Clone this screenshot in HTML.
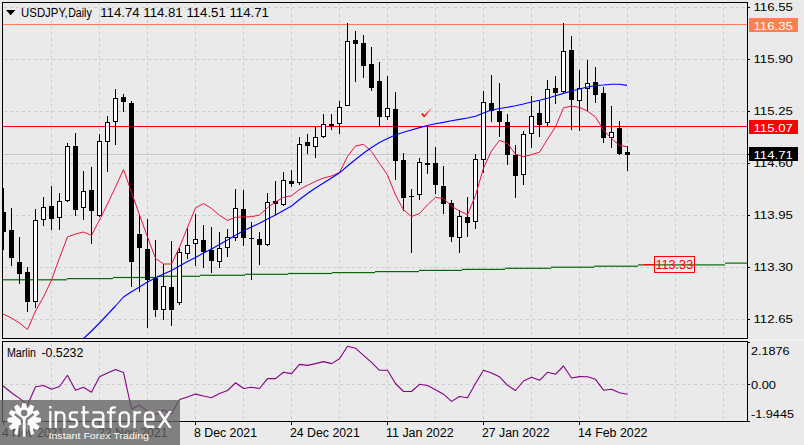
<!DOCTYPE html>
<html><head><meta charset="utf-8"><title>USDJPY Daily</title>
<style>
html,body{margin:0;padding:0;background:#eaeaea;overflow:hidden}
body{width:804px;height:445px;font-family:"Liberation Sans",sans-serif}
svg{display:block;font-family:"Liberation Sans",sans-serif;font-size:12px}
text{font-family:"Liberation Sans",sans-serif}
</style></head><body>
<svg width="804" height="445" viewBox="0 0 804 445">
<rect x="0" y="0" width="804" height="445" fill="#eaeaea"/>
<g stroke="#cdcdcd" stroke-width="1" stroke-dasharray="3 3" shape-rendering="crispEdges" fill="none">
<line x1="51.5" y1="2" x2="51.5" y2="338"/>
<line x1="51.5" y1="344" x2="51.5" y2="421"/>
<line x1="99.5" y1="2" x2="99.5" y2="338"/>
<line x1="99.5" y1="344" x2="99.5" y2="421"/>
<line x1="147.5" y1="2" x2="147.5" y2="338"/>
<line x1="147.5" y1="344" x2="147.5" y2="421"/>
<line x1="195.5" y1="2" x2="195.5" y2="338"/>
<line x1="195.5" y1="344" x2="195.5" y2="421"/>
<line x1="243.5" y1="2" x2="243.5" y2="338"/>
<line x1="243.5" y1="344" x2="243.5" y2="421"/>
<line x1="291.5" y1="2" x2="291.5" y2="338"/>
<line x1="291.5" y1="344" x2="291.5" y2="421"/>
<line x1="339.5" y1="2" x2="339.5" y2="338"/>
<line x1="339.5" y1="344" x2="339.5" y2="421"/>
<line x1="387.5" y1="2" x2="387.5" y2="338"/>
<line x1="387.5" y1="344" x2="387.5" y2="421"/>
<line x1="435.5" y1="2" x2="435.5" y2="338"/>
<line x1="435.5" y1="344" x2="435.5" y2="421"/>
<line x1="483.5" y1="2" x2="483.5" y2="338"/>
<line x1="483.5" y1="344" x2="483.5" y2="421"/>
<line x1="531.5" y1="2" x2="531.5" y2="338"/>
<line x1="531.5" y1="344" x2="531.5" y2="421"/>
<line x1="579.5" y1="2" x2="579.5" y2="338"/>
<line x1="579.5" y1="344" x2="579.5" y2="421"/>
<line x1="627.5" y1="2" x2="627.5" y2="338"/>
<line x1="627.5" y1="344" x2="627.5" y2="421"/>
<line x1="675.5" y1="2" x2="675.5" y2="338"/>
<line x1="675.5" y1="344" x2="675.5" y2="421"/>
<line x1="723.5" y1="2" x2="723.5" y2="338"/>
<line x1="723.5" y1="344" x2="723.5" y2="421"/>
<line x1="4" y1="7.5" x2="747" y2="7.5"/>
<line x1="4" y1="59.5" x2="747" y2="59.5"/>
<line x1="4" y1="111.5" x2="747" y2="111.5"/>
<line x1="4" y1="163.5" x2="747" y2="163.5"/>
<line x1="4" y1="215.5" x2="747" y2="215.5"/>
<line x1="4" y1="267.5" x2="747" y2="267.5"/>
<line x1="4" y1="319.5" x2="747" y2="319.5"/>
<line x1="4" y1="384.5" x2="747" y2="384.5"/>
</g>
<rect x="3" y="154" width="744" height="1" fill="#c9c9c9" shape-rendering="crispEdges"/>
<g fill="#0a660a">
<rect x="3" y="279.2" width="64" height="1.2"/>
<rect x="67" y="278.0" width="46" height="1.2"/>
<rect x="113" y="276.9" width="44" height="1.2"/>
<rect x="157" y="275.7" width="43" height="1.2"/>
<rect x="200" y="274.7" width="45" height="1.2"/>
<rect x="245" y="273.7" width="43" height="1.2"/>
<rect x="288" y="272.9" width="44" height="1.2"/>
<rect x="332" y="272.0" width="43" height="1.2"/>
<rect x="375" y="271.0" width="44" height="1.2"/>
<rect x="419" y="269.8" width="43" height="1.2"/>
<rect x="462" y="268.8" width="43" height="1.2"/>
<rect x="505" y="267.7" width="46" height="1.2"/>
<rect x="551" y="266.6" width="43" height="1.2"/>
<rect x="594" y="265.6" width="44" height="1.2"/>
<rect x="638" y="264.3" width="87" height="1.2"/>
<rect x="725" y="262.5" width="23" height="1.2"/>
</g>
<rect x="3" y="24" width="744" height="1" fill="#ff7f50" shape-rendering="crispEdges"/>
<rect x="3" y="126" width="744" height="1" fill="#ff0000" shape-rendering="crispEdges"/>
<rect x="3" y="126.6" width="744" height="0.5" fill="#ff0000" opacity="0.45"/>
<g shape-rendering="crispEdges">
<rect x="3" y="188" width="1" height="62" fill="#000"/>
<rect x="3" y="212" width="3" height="20" fill="#000"/>
<rect x="11" y="208" width="1" height="58" fill="#000"/>
<rect x="9" y="230" width="5" height="28" fill="#000"/>
<rect x="19" y="237" width="1" height="47" fill="#000"/>
<rect x="17" y="262" width="5" height="12" fill="#000"/>
<rect x="27" y="267" width="1" height="45" fill="#000"/>
<rect x="25" y="272" width="5" height="30" fill="#000"/>
<rect x="35" y="209" width="1" height="99" fill="#000"/>
<rect x="33" y="220" width="5" height="82" fill="#000"/>
<rect x="34" y="221" width="3" height="80" fill="#fff"/>
<rect x="43" y="197" width="1" height="29" fill="#000"/>
<rect x="41" y="207" width="5" height="13" fill="#000"/>
<rect x="42" y="208" width="3" height="11" fill="#fff"/>
<rect x="51" y="186" width="1" height="44" fill="#000"/>
<rect x="49" y="206" width="5" height="13" fill="#000"/>
<rect x="59" y="193" width="1" height="37" fill="#000"/>
<rect x="57" y="201" width="5" height="17" fill="#000"/>
<rect x="58" y="202" width="3" height="15" fill="#fff"/>
<rect x="67" y="143" width="1" height="59" fill="#000"/>
<rect x="65" y="146" width="5" height="55" fill="#000"/>
<rect x="66" y="147" width="3" height="53" fill="#fff"/>
<rect x="75" y="133" width="1" height="83" fill="#000"/>
<rect x="73" y="146" width="5" height="64" fill="#000"/>
<rect x="83" y="171" width="1" height="49" fill="#000"/>
<rect x="81" y="191" width="5" height="17" fill="#000"/>
<rect x="82" y="192" width="3" height="15" fill="#fff"/>
<rect x="91" y="167" width="1" height="77" fill="#000"/>
<rect x="89" y="190" width="5" height="21" fill="#000"/>
<rect x="99" y="134" width="1" height="83" fill="#000"/>
<rect x="97" y="141" width="5" height="75" fill="#000"/>
<rect x="98" y="142" width="3" height="73" fill="#fff"/>
<rect x="107" y="116" width="1" height="56" fill="#000"/>
<rect x="105" y="122" width="5" height="20" fill="#000"/>
<rect x="106" y="123" width="3" height="18" fill="#fff"/>
<rect x="115" y="89" width="1" height="56" fill="#000"/>
<rect x="113" y="98" width="5" height="24" fill="#000"/>
<rect x="114" y="99" width="3" height="22" fill="#fff"/>
<rect x="123" y="94" width="1" height="18" fill="#000"/>
<rect x="121" y="97" width="5" height="5" fill="#000"/>
<rect x="131" y="101" width="1" height="186" fill="#000"/>
<rect x="129" y="103" width="5" height="159" fill="#000"/>
<rect x="139" y="214" width="1" height="78" fill="#000"/>
<rect x="137" y="234" width="5" height="14" fill="#000"/>
<rect x="147" y="219" width="1" height="109" fill="#000"/>
<rect x="145" y="249" width="5" height="31" fill="#000"/>
<rect x="155" y="240" width="1" height="77" fill="#000"/>
<rect x="153" y="278" width="5" height="32" fill="#000"/>
<rect x="163" y="264" width="1" height="56" fill="#000"/>
<rect x="161" y="286" width="5" height="24" fill="#000"/>
<rect x="162" y="287" width="3" height="22" fill="#fff"/>
<rect x="171" y="241" width="1" height="85" fill="#000"/>
<rect x="169" y="287" width="5" height="23" fill="#000"/>
<rect x="179" y="248" width="1" height="57" fill="#000"/>
<rect x="177" y="252" width="5" height="51" fill="#000"/>
<rect x="178" y="253" width="3" height="49" fill="#fff"/>
<rect x="187" y="228" width="1" height="31" fill="#000"/>
<rect x="185" y="245" width="5" height="9" fill="#000"/>
<rect x="186" y="246" width="3" height="7" fill="#fff"/>
<rect x="195" y="214" width="1" height="52" fill="#000"/>
<rect x="193" y="239" width="5" height="5" fill="#000"/>
<rect x="194" y="240" width="3" height="3" fill="#fff"/>
<rect x="203" y="225" width="1" height="43" fill="#000"/>
<rect x="201" y="240" width="5" height="12" fill="#000"/>
<rect x="211" y="227" width="1" height="46" fill="#000"/>
<rect x="209" y="250" width="5" height="11" fill="#000"/>
<rect x="219" y="232" width="1" height="36" fill="#000"/>
<rect x="217" y="248" width="5" height="14" fill="#000"/>
<rect x="218" y="249" width="3" height="12" fill="#fff"/>
<rect x="227" y="229" width="1" height="28" fill="#000"/>
<rect x="225" y="237" width="5" height="11" fill="#000"/>
<rect x="226" y="238" width="3" height="9" fill="#fff"/>
<rect x="235" y="189" width="1" height="52" fill="#000"/>
<rect x="233" y="208" width="5" height="30" fill="#000"/>
<rect x="234" y="209" width="3" height="28" fill="#fff"/>
<rect x="243" y="190" width="1" height="56" fill="#000"/>
<rect x="241" y="209" width="5" height="29" fill="#000"/>
<rect x="251" y="222" width="1" height="58" fill="#000"/>
<rect x="249" y="238" width="5" height="1" fill="#000"/>
<rect x="259" y="232" width="1" height="33" fill="#000"/>
<rect x="257" y="239" width="5" height="6" fill="#000"/>
<rect x="267" y="193" width="1" height="53" fill="#000"/>
<rect x="265" y="202" width="5" height="43" fill="#000"/>
<rect x="266" y="203" width="3" height="41" fill="#fff"/>
<rect x="275" y="181" width="1" height="34" fill="#000"/>
<rect x="273" y="201" width="5" height="3" fill="#000"/>
<rect x="283" y="172" width="1" height="34" fill="#000"/>
<rect x="281" y="180" width="5" height="25" fill="#000"/>
<rect x="282" y="181" width="3" height="23" fill="#fff"/>
<rect x="291" y="170" width="1" height="17" fill="#000"/>
<rect x="289" y="181" width="5" height="3" fill="#000"/>
<rect x="299" y="137" width="1" height="48" fill="#000"/>
<rect x="297" y="144" width="5" height="39" fill="#000"/>
<rect x="298" y="145" width="3" height="37" fill="#fff"/>
<rect x="307" y="134" width="1" height="20" fill="#000"/>
<rect x="305" y="142" width="5" height="4" fill="#000"/>
<rect x="315" y="127" width="1" height="31" fill="#000"/>
<rect x="313" y="137" width="5" height="10" fill="#000"/>
<rect x="314" y="138" width="3" height="8" fill="#fff"/>
<rect x="323" y="114" width="1" height="24" fill="#000"/>
<rect x="321" y="124" width="5" height="13" fill="#000"/>
<rect x="322" y="125" width="3" height="11" fill="#fff"/>
<rect x="331" y="114" width="1" height="16" fill="#000"/>
<rect x="329" y="124" width="5" height="2" fill="#000"/>
<rect x="339" y="101" width="1" height="33" fill="#000"/>
<rect x="337" y="107" width="5" height="17" fill="#000"/>
<rect x="338" y="108" width="3" height="15" fill="#fff"/>
<rect x="347" y="23" width="1" height="83" fill="#000"/>
<rect x="345" y="41" width="5" height="65" fill="#000"/>
<rect x="346" y="42" width="3" height="63" fill="#fff"/>
<rect x="355" y="31" width="1" height="51" fill="#000"/>
<rect x="353" y="40" width="5" height="4" fill="#000"/>
<rect x="363" y="35" width="1" height="43" fill="#000"/>
<rect x="361" y="43" width="5" height="23" fill="#000"/>
<rect x="371" y="47" width="1" height="44" fill="#000"/>
<rect x="369" y="64" width="5" height="24" fill="#000"/>
<rect x="379" y="62" width="1" height="65" fill="#000"/>
<rect x="377" y="81" width="5" height="36" fill="#000"/>
<rect x="387" y="76" width="1" height="44" fill="#000"/>
<rect x="385" y="108" width="5" height="9" fill="#000"/>
<rect x="386" y="109" width="3" height="7" fill="#fff"/>
<rect x="395" y="92" width="1" height="88" fill="#000"/>
<rect x="393" y="109" width="5" height="52" fill="#000"/>
<rect x="403" y="153" width="1" height="58" fill="#000"/>
<rect x="401" y="160" width="5" height="38" fill="#000"/>
<rect x="411" y="189" width="1" height="64" fill="#000"/>
<rect x="409" y="196" width="5" height="1" fill="#000"/>
<rect x="419" y="158" width="1" height="42" fill="#000"/>
<rect x="417" y="162" width="5" height="33" fill="#000"/>
<rect x="418" y="163" width="3" height="31" fill="#fff"/>
<rect x="427" y="125" width="1" height="49" fill="#000"/>
<rect x="425" y="163" width="5" height="2" fill="#000"/>
<rect x="435" y="147" width="1" height="47" fill="#000"/>
<rect x="433" y="163" width="5" height="22" fill="#000"/>
<rect x="443" y="166" width="1" height="48" fill="#000"/>
<rect x="441" y="186" width="5" height="18" fill="#000"/>
<rect x="451" y="200" width="1" height="42" fill="#000"/>
<rect x="449" y="203" width="5" height="34" fill="#000"/>
<rect x="459" y="210" width="1" height="43" fill="#000"/>
<rect x="457" y="216" width="5" height="22" fill="#000"/>
<rect x="458" y="217" width="3" height="20" fill="#fff"/>
<rect x="467" y="197" width="1" height="40" fill="#000"/>
<rect x="465" y="217" width="5" height="6" fill="#000"/>
<rect x="475" y="154" width="1" height="75" fill="#000"/>
<rect x="473" y="159" width="5" height="63" fill="#000"/>
<rect x="474" y="160" width="3" height="61" fill="#fff"/>
<rect x="483" y="91" width="1" height="82" fill="#000"/>
<rect x="481" y="102" width="5" height="58" fill="#000"/>
<rect x="482" y="103" width="3" height="56" fill="#fff"/>
<rect x="491" y="75" width="1" height="47" fill="#000"/>
<rect x="489" y="103" width="5" height="8" fill="#000"/>
<rect x="499" y="83" width="1" height="54" fill="#000"/>
<rect x="497" y="111" width="5" height="11" fill="#000"/>
<rect x="507" y="114" width="1" height="51" fill="#000"/>
<rect x="505" y="122" width="5" height="33" fill="#000"/>
<rect x="515" y="145" width="1" height="53" fill="#000"/>
<rect x="513" y="155" width="5" height="21" fill="#000"/>
<rect x="523" y="131" width="1" height="54" fill="#000"/>
<rect x="521" y="134" width="5" height="41" fill="#000"/>
<rect x="522" y="135" width="3" height="39" fill="#fff"/>
<rect x="531" y="96" width="1" height="52" fill="#000"/>
<rect x="529" y="116" width="5" height="18" fill="#000"/>
<rect x="530" y="117" width="3" height="16" fill="#fff"/>
<rect x="539" y="101" width="1" height="36" fill="#000"/>
<rect x="537" y="113" width="5" height="12" fill="#000"/>
<rect x="547" y="80" width="1" height="46" fill="#000"/>
<rect x="545" y="89" width="5" height="34" fill="#000"/>
<rect x="546" y="90" width="3" height="32" fill="#fff"/>
<rect x="555" y="76" width="1" height="28" fill="#000"/>
<rect x="553" y="88" width="5" height="5" fill="#000"/>
<rect x="563" y="23" width="1" height="70" fill="#000"/>
<rect x="561" y="51" width="5" height="41" fill="#000"/>
<rect x="562" y="52" width="3" height="39" fill="#fff"/>
<rect x="571" y="36" width="1" height="94" fill="#000"/>
<rect x="569" y="50" width="5" height="50" fill="#000"/>
<rect x="579" y="70" width="1" height="61" fill="#000"/>
<rect x="577" y="88" width="5" height="13" fill="#000"/>
<rect x="578" y="89" width="3" height="11" fill="#fff"/>
<rect x="587" y="60" width="1" height="51" fill="#000"/>
<rect x="585" y="83" width="5" height="6" fill="#000"/>
<rect x="586" y="84" width="3" height="4" fill="#fff"/>
<rect x="595" y="67" width="1" height="36" fill="#000"/>
<rect x="593" y="82" width="5" height="13" fill="#000"/>
<rect x="603" y="87" width="1" height="56" fill="#000"/>
<rect x="601" y="93" width="5" height="45" fill="#000"/>
<rect x="611" y="106" width="1" height="42" fill="#000"/>
<rect x="609" y="132" width="5" height="6" fill="#000"/>
<rect x="610" y="133" width="3" height="4" fill="#fff"/>
<rect x="619" y="121" width="1" height="34" fill="#000"/>
<rect x="617" y="128" width="5" height="26" fill="#000"/>
<rect x="627" y="146" width="1" height="25" fill="#000"/>
<rect x="625" y="152" width="5" height="3" fill="#000"/>
</g>
<polyline points="3.0,314.0 11.5,318.0 19.5,323.0 27.5,329.5 35.5,311.0 43.5,297.0 51.5,280.0 59.5,258.0 67.5,237.0 75.5,234.0 83.5,232.0 91.5,235.4 99.5,220.0 107.5,204.0 115.5,187.0 123.5,169.5 131.5,192.3 139.5,215.0 147.5,237.0 155.5,258.3 163.5,264.0 171.5,264.0 179.5,247.3 187.5,227.4 195.5,208.0 203.5,203.5 211.5,208.5 219.5,215.3 227.5,220.4 235.5,217.3 243.5,217.0 251.5,216.7 259.5,215.0 267.5,207.7 275.5,202.0 283.5,197.3 291.5,195.8 299.5,189.5 307.5,185.3 315.5,181.4 323.5,178.0 331.5,176.0 339.5,172.5 347.5,156.5 355.5,146.0 363.5,144.3 371.5,151.5 379.5,163.4 387.5,175.0 395.5,195.0 403.5,209.8 411.5,216.5 419.5,213.5 427.5,204.8 435.5,197.4 443.5,198.6 451.5,206.0 459.5,211.0 467.5,214.8 475.5,195.5 483.5,168.0 491.5,151.0 499.5,140.3 507.5,143.5 515.5,154.2 523.5,156.7 531.5,154.7 539.5,152.2 547.5,139.3 555.5,126.7 563.5,107.8 571.5,106.1 579.5,107.4 587.5,111.2 595.5,117.0 603.5,130.0 611.5,138.5 619.5,145.5 627.5,146.7" fill="none" stroke="#e6143c" stroke-width="1.0" stroke-linejoin="round"/>
<polyline points="83.0,339.0 91.5,331.0 99.5,323.0 107.5,314.5 115.5,306.0 123.5,297.0 131.5,291.7 139.5,287.0 147.5,282.0 155.5,278.0 163.5,274.0 171.5,270.5 179.5,266.0 187.5,261.5 195.5,257.5 203.5,253.0 211.5,249.0 219.5,244.6 227.5,240.0 235.5,235.2 243.5,230.8 251.5,227.0 259.5,223.2 267.5,219.0 275.5,215.0 283.5,210.5 291.5,206.0 299.5,199.5 307.5,193.5 315.5,188.0 323.5,183.0 331.5,178.0 339.5,172.8 347.5,166.0 355.5,159.5 363.5,153.3 371.5,147.5 379.5,142.5 387.5,138.5 395.5,135.0 403.5,132.3 411.5,130.0 419.5,127.6 427.5,125.5 435.5,123.8 443.5,122.4 451.5,120.8 459.5,119.4 467.5,118.0 475.5,116.3 483.5,113.0 491.5,110.0 499.5,108.5 507.5,107.2 515.5,105.8 523.5,104.0 531.5,102.0 539.5,100.3 547.5,98.3 555.5,95.8 563.5,93.4 571.5,91.0 579.5,89.0 587.5,87.0 595.5,85.5 603.5,85.0 611.5,84.3 619.5,84.2 627.0,85.4" fill="none" stroke="#0000ff" stroke-width="1.1" stroke-linejoin="round"/>
<path d="M421.1 113.9 L422.7 112.9 L424.2 115.2 Q427.6 111.2 432.2 107.7 Q428 112.2 424.2 117.6 Z" fill="#ff0000"/>
<rect x="644" y="264" width="10" height="1" fill="#ff0000" shape-rendering="crispEdges"/>
<rect x="654.5" y="256.5" width="40" height="16" fill="none" stroke="#ff0000" stroke-width="1" shape-rendering="crispEdges"/>
<text x="655.4" y="269" fill="#ff0000" textLength="37.8" lengthAdjust="spacingAndGlyphs">113.33</text>
<polyline points="2.5,385.5 11.5,392.7 19.5,398.4 27.5,405.0 35.5,386.7 43.5,385.5 51.5,389.2 59.5,386.5 67.5,375.3 75.5,390.2 83.5,387.2 91.5,392.2 99.5,376.8 107.5,373.0 115.5,369.5 123.5,372.4 131.5,409.0 139.5,405.1 147.5,411.2 155.5,414.9 163.5,409.7 171.5,414.0 179.5,399.5 187.5,397.0 195.5,394.1 203.5,396.0 211.5,397.7 219.5,393.5 227.5,390.5 235.5,382.8 243.5,388.5 251.5,387.3 259.5,388.5 267.5,378.6 275.5,378.6 283.5,372.3 291.5,373.6 299.5,364.4 307.5,365.4 315.5,363.6 323.5,361.6 331.5,363.6 339.5,358.7 347.5,346.2 355.5,348.2 363.5,355.4 371.5,362.4 379.5,370.3 387.5,370.3 395.5,383.5 403.5,391.5 411.5,391.5 419.5,384.3 427.5,385.5 435.5,389.8 443.5,394.2 451.5,401.4 459.5,396.5 467.5,397.7 475.5,383.5 483.5,370.3 491.5,373.0 499.5,376.8 507.5,385.3 515.5,390.5 523.5,381.0 531.5,377.3 539.5,380.3 547.5,372.3 555.5,374.3 563.5,366.0 571.5,378.0 579.5,376.6 587.5,376.7 595.5,379.3 603.5,390.2 611.5,389.3 619.5,392.7 627.5,394.2" fill="none" stroke="#850085" stroke-width="1.1" stroke-linejoin="round"/>
<g fill="#000" shape-rendering="crispEdges">
<rect x="2" y="2" width="746" height="1"/>
<rect x="2" y="2" width="1" height="337"/>
<rect x="2" y="338" width="746" height="1"/>
<rect x="747" y="2" width="1" height="337"/>
<rect x="2" y="341" width="746" height="1"/>
<rect x="2" y="341" width="1" height="81"/>
<rect x="2" y="421" width="746" height="1"/>
<rect x="747" y="341" width="1" height="81"/>
<rect x="748" y="7" width="2" height="1"/>
<rect x="748" y="59" width="2" height="1"/>
<rect x="748" y="111" width="2" height="1"/>
<rect x="748" y="163" width="2" height="1"/>
<rect x="748" y="215" width="2" height="1"/>
<rect x="748" y="267" width="2" height="1"/>
<rect x="748" y="319" width="2" height="1"/>
<rect x="748" y="154" width="2" height="1"/>
<rect x="748" y="342" width="2" height="1"/>
<rect x="748" y="384" width="2" height="1"/>
<rect x="748" y="421" width="2" height="1"/>
<rect x="3" y="422" width="1" height="3"/>
<rect x="99" y="422" width="1" height="3"/>
<rect x="195" y="422" width="1" height="3"/>
<rect x="291" y="422" width="1" height="3"/>
<rect x="387" y="422" width="1" height="3"/>
<rect x="483" y="422" width="1" height="3"/>
<rect x="579" y="422" width="1" height="3"/>
</g>
<rect x="0" y="339" width="804" height="2" fill="#f0f0f0"/>
<path d="M6 10 L15.4 10 L10.7 15.2 Z" fill="#000"/>
<text x="21.1" y="16.5" fill="#000" textLength="46.6" lengthAdjust="spacingAndGlyphs">USDJPY,</text>
<text x="68.2" y="16.5" fill="#000" textLength="23.6" lengthAdjust="spacingAndGlyphs">Daily</text>
<text x="100.2" y="16.5" fill="#000" textLength="39.4" lengthAdjust="spacingAndGlyphs">114.74</text>
<text x="143.3" y="16.5" fill="#000" textLength="39.4" lengthAdjust="spacingAndGlyphs">114.81</text>
<text x="186.4" y="16.5" fill="#000" textLength="39.4" lengthAdjust="spacingAndGlyphs">114.51</text>
<text x="229.5" y="16.5" fill="#000" textLength="39.4" lengthAdjust="spacingAndGlyphs">114.71</text>
<text x="7" y="357" fill="#000" textLength="29" lengthAdjust="spacingAndGlyphs">Marlin</text>
<text x="41.4" y="357" fill="#000" textLength="42" lengthAdjust="spacingAndGlyphs">-0.5232</text>
<g style="font-size:11.4px">
<text x="753.5" y="11.25" fill="#000" textLength="39.4" lengthAdjust="spacingAndGlyphs">116.55</text>
<text x="753.5" y="63.25" fill="#000" textLength="39.4" lengthAdjust="spacingAndGlyphs">115.90</text>
<text x="753.5" y="115.25" fill="#000" textLength="39.4" lengthAdjust="spacingAndGlyphs">115.25</text>
<text x="753.5" y="167.25" fill="#000" textLength="39.4" lengthAdjust="spacingAndGlyphs">114.60</text>
<text x="753.5" y="219.25" fill="#000" textLength="39.4" lengthAdjust="spacingAndGlyphs">113.95</text>
<text x="753.5" y="271.25" fill="#000" textLength="39.4" lengthAdjust="spacingAndGlyphs">113.30</text>
<text x="753.5" y="323.25" fill="#000" textLength="39.4" lengthAdjust="spacingAndGlyphs">112.65</text>
<rect x="749" y="18" width="49" height="14" fill="#ff7f50" shape-rendering="crispEdges"/>
<text x="753.5" y="29.6" fill="#fff" textLength="39.4" lengthAdjust="spacingAndGlyphs">116.35</text>
<rect x="749" y="120" width="49" height="14" fill="#ff0000" shape-rendering="crispEdges"/>
<text x="753.5" y="131.6" fill="#fff" textLength="39.4" lengthAdjust="spacingAndGlyphs">115.07</text>
<rect x="749" y="147" width="49" height="14" fill="#000" shape-rendering="crispEdges"/>
<text x="753.5" y="158.6" fill="#fff" textLength="39.4" lengthAdjust="spacingAndGlyphs">114.71</text>
<text x="751" y="355" fill="#000" textLength="38.6" lengthAdjust="spacingAndGlyphs">2.1876</text>
<text x="751" y="389.3" fill="#000" textLength="25" lengthAdjust="spacingAndGlyphs">0.00</text>
<text x="751" y="418.2" fill="#000" textLength="43" lengthAdjust="spacingAndGlyphs">-1.9445</text>
</g>
<text x="2" y="437" fill="#000" textLength="62" lengthAdjust="spacingAndGlyphs">4 Nov 2021</text>
<text x="98" y="437" fill="#000" textLength="69.5" lengthAdjust="spacingAndGlyphs">22 Nov 2021</text>
<text x="194" y="437" fill="#000" textLength="63" lengthAdjust="spacingAndGlyphs">8 Dec 2021</text>
<text x="290" y="437" fill="#000" textLength="69.8" lengthAdjust="spacingAndGlyphs">24 Dec 2021</text>
<text x="386" y="437" fill="#000" textLength="67.6" lengthAdjust="spacingAndGlyphs">11 Jan 2022</text>
<text x="482" y="437" fill="#000" textLength="67.6" lengthAdjust="spacingAndGlyphs">27 Jan 2022</text>
<text x="578" y="437" fill="#000" textLength="69.4" lengthAdjust="spacingAndGlyphs">14 Feb 2022</text>
<rect x="0" y="400" width="180" height="45" fill="#606060" fill-opacity="0.775"/>
<defs><mask id="gm" maskUnits="userSpaceOnUse" x="0" y="398" width="50" height="47">
<rect x="0" y="398" width="50" height="47" fill="#fff"/>
<circle cx="24.2" cy="413" r="3.2" fill="#000"/>
<path d="M14.8 414 L21.9 419.6" fill="none" stroke="#000" stroke-width="2.5"/>
<path d="M33.6 414 L26.5 419.6" fill="none" stroke="#000" stroke-width="2.5"/>
<path d="M21.8 419 V438 M26.6 419 V438" fill="none" stroke="#000" stroke-width="1.9"/>
<path d="M19 425 L21 425 L21 438 L17.2 438 Z M29.4 425 L27.4 425 L27.4 438 L31.2 438 Z" fill="#000"/>
</mask></defs>
<g mask="url(#gm)"><g transform="translate(24.2,420)" fill="#fbfbfb">
<path d="M-2.9 -11.5 L-2.0 -16.7 L2.0 -16.7 L2.9 -11.5 Z" transform="rotate(0.0)"/>
<path d="M-2.9 -11.5 L-2.0 -16.7 L2.0 -16.7 L2.9 -11.5 Z" transform="rotate(30.0)"/>
<path d="M-2.9 -11.5 L-2.0 -16.7 L2.0 -16.7 L2.9 -11.5 Z" transform="rotate(60.0)"/>
<path d="M-2.9 -11.5 L-2.0 -16.7 L2.0 -16.7 L2.9 -11.5 Z" transform="rotate(90.0)"/>
<path d="M-2.9 -11.5 L-2.0 -16.7 L2.0 -16.7 L2.9 -11.5 Z" transform="rotate(120.0)"/>
<path d="M-2.9 -11.5 L-2.0 -16.7 L2.0 -16.7 L2.9 -11.5 Z" transform="rotate(150.0)"/>
<path d="M-2.9 -11.5 L-2.0 -16.7 L2.0 -16.7 L2.9 -11.5 Z" transform="rotate(180.0)"/>
<path d="M-2.9 -11.5 L-2.0 -16.7 L2.0 -16.7 L2.9 -11.5 Z" transform="rotate(210.0)"/>
<path d="M-2.9 -11.5 L-2.0 -16.7 L2.0 -16.7 L2.9 -11.5 Z" transform="rotate(240.0)"/>
<path d="M-2.9 -11.5 L-2.0 -16.7 L2.0 -16.7 L2.9 -11.5 Z" transform="rotate(270.0)"/>
<path d="M-2.9 -11.5 L-2.0 -16.7 L2.0 -16.7 L2.9 -11.5 Z" transform="rotate(300.0)"/>
<path d="M-2.9 -11.5 L-2.0 -16.7 L2.0 -16.7 L2.9 -11.5 Z" transform="rotate(330.0)"/>
<circle cx="0" cy="0" r="12.4"/>
</g></g>
<g fill="none" stroke="#fbfbfb" stroke-width="2.35" stroke-linecap="butt" stroke-linejoin="round">
<path d="M50.3 405.9 V408.6 M50.3 411 V428.1"/>
<path d="M55.8 428.1 V411 M55.8 417 Q55.8 412.4 60 412.4 H60.4 Q64.4 412.4 64.4 417 V428.1"/>
<path d="M78 412.4 H72.8 Q69.8 412.4 69.8 415.9 Q69.8 419.5 72.8 419.5 H74 Q77 419.5 77 423.1 Q77 426.7 74 426.7 H68.6"/>
<path d="M83.8 405.9 V423 Q83.8 426.7 87.2 426.7 H89.3 M81 412.4 H88.8"/>
<path d="M92.6 412.4 H100 Q103.3 412.4 103.3 416 V428.1 M103.3 419.5 H96 Q92.8 419.5 92.8 423.1 Q92.8 426.7 96 426.7 H103.3"/>
<path d="M110.7 428.1 V410.6 Q110.7 407.3 114 407.3 H115.8 M107 412.4 H115.6"/>
<rect x="119.8" y="412.4" width="8.9" height="14.3" rx="3.8" ry="3.8"/>
<path d="M134.6 428.1 V411 M134.6 417 Q134.6 412.4 138.6 412.4 H141"/>
<path d="M145 419.5 H153.5 V416.4 Q153.5 412.4 149.9 412.4 H148.6 Q145 412.4 145 416.4 V422.7 Q145 426.7 148.6 426.7 H154.2"/>
</g>
<defs><clipPath id="xc"><rect x="155" y="411" width="20" height="17.1"/></clipPath></defs>
<g clip-path="url(#xc)" fill="none" stroke="#fbfbfb" stroke-width="2.35"><path d="M157.6 409 L171.8 430 M171.8 409 L157.6 430"/></g>
<text x="48.5" y="439.1" fill="#fbfbfb" style="font-size:9.5px" textLength="100.5" lengthAdjust="spacingAndGlyphs">Instant Forex Trading</text>
</svg></body></html>
